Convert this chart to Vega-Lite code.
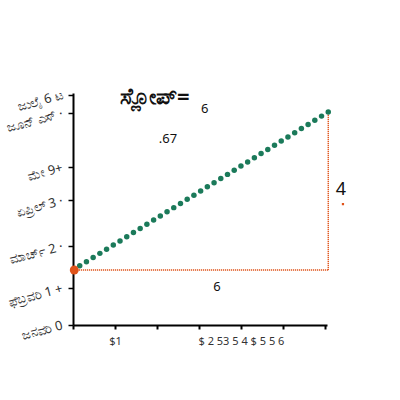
{
  "$schema": "https://vega.github.io/schema/vega-lite/v6.json",
  "autosize": "none",
  "width": 254,
  "height": 232,
  "padding": {"left": 73, "top": 93, "right": 73, "bottom": 75},
  "background": "white",
  "config": {
    "view": {"stroke": null},
    "font": "Noto Sans",
    "axis": {"labelOverlap": false}
  },
  "datasets": {
    "dots": [
      {"x": 0.16, "y": 1.107}, {"x": 0.32, "y": 1.213}, {"x": 0.48, "y": 1.32},
      {"x": 0.64, "y": 1.427}, {"x": 0.8, "y": 1.533}, {"x": 0.96, "y": 1.64},
      {"x": 1.12, "y": 1.747}, {"x": 1.28, "y": 1.853}, {"x": 1.44, "y": 1.96},
      {"x": 1.6, "y": 2.067}, {"x": 1.76, "y": 2.173}, {"x": 1.92, "y": 2.28},
      {"x": 2.08, "y": 2.387}, {"x": 2.24, "y": 2.493}, {"x": 2.4, "y": 2.6},
      {"x": 2.56, "y": 2.707}, {"x": 2.72, "y": 2.813}, {"x": 2.88, "y": 2.92},
      {"x": 3.04, "y": 3.027}, {"x": 3.2, "y": 3.133}, {"x": 3.36, "y": 3.24},
      {"x": 3.52, "y": 3.347}, {"x": 3.68, "y": 3.453}, {"x": 3.84, "y": 3.56},
      {"x": 4.0, "y": 3.667}, {"x": 4.16, "y": 3.773}, {"x": 4.32, "y": 3.88},
      {"x": 4.48, "y": 3.987}, {"x": 4.64, "y": 4.093}, {"x": 4.8, "y": 4.2},
      {"x": 4.96, "y": 4.307}, {"x": 5.12, "y": 4.413}, {"x": 5.28, "y": 4.52},
      {"x": 5.44, "y": 4.627}, {"x": 5.6, "y": 4.733}, {"x": 5.76, "y": 4.84},
      {"x": 5.92, "y": 4.947}, {"x": 6.08, "y": 5.053}
    ],
    "legs": [
      {"leg": "run", "x": 0, "y": 1, "x2": 6.08, "y2": 1},
      {"leg": "rise", "x": 6.08, "y": 1, "x2": 6.08, "y2": 5.053}
    ],
    "start": [{"x": 0.03, "y": 1}],
    "tick4": [{"x": 6.43, "y": 2.69}],
    "notes": [
      {"text": "ಸ್ಲೋಪ್=", "x": 1.95, "y": 5.44, "kind": "title"},
      {"text": "6", "x": 3.14, "y": 5.12, "kind": "num"},
      {"text": ".67", "x": 2.26, "y": 4.36, "kind": "num"},
      {"text": "6", "x": 3.43, "y": 0.56, "kind": "num"},
      {"text": "4", "x": 6.38, "y": 3.05, "kind": "big"}
    ]
  },
  "encoding": {
    "x": {
      "field": "x", "type": "quantitative",
      "scale": {"domain": [0, 6.05], "nice": false, "zero": false},
      "axis": {
        "title": null,
        "values": [0, 1, 2, 3, 4, 5, 6],
        "grid": false,
        "domainColor": "black",
        "domainWidth": 2,
        "tickColor": "black",
        "tickSize": 4,
        "tickWidth": 2,
        "labelFontSize": 11,
        "labelColor": "#333",
        "labelPadding": 6,
        "labelOverlap": false,
        "labelExpr": "datum.value == 1 ? '$1' : datum.value == 4 ? '$ 2 53 5 4 $ 5 5 6' : ''"
      }
    },
    "y": {
      "field": "y", "type": "quantitative",
      "scale": {"domain": [-0.41, 5.54], "nice": false, "zero": false},
      "axis": {
        "title": null,
        "values": [-0.4, 0.54, 1.62, 2.79, 3.64, 5.03, 5.5],
        "grid": false,
        "domainColor": "black",
        "domainWidth": 2,
        "tickColor": "black",
        "tickSize": 5,
        "tickWidth": 1.5,
        "labelAngle": -15,
        "labelAlign": "right",
        "labelBaseline": "middle",
        "labelFontSize": 13,
        "labelColor": "#333",
        "labelPadding": 6,
        "labelOverlap": false,
        "labelBound": false,
        "labelExpr": "datum.value < 0 ? 'ಜನವರಿ 0' : datum.value < 1 ? 'ಫೆಬ್ರವರಿ 1 +' : datum.value < 2 ? 'ಮಾರ್ಚ್ 2 ·' : datum.value < 3 ? 'ಏಪ್ರಿಲ್ 3 ·' : datum.value < 4 ? 'ಮೇ 9+' : datum.value < 5.2 ? 'ಜೂನ್ ಎಸ್ ·' : 'ಜುಲೈ 6 ಟ'"
      }
    }
  },
  "layer": [
    {
      "data": {"name": "legs"},
      "mark": {"type": "rule", "stroke": "#e0531a", "strokeWidth": 1.4, "strokeDash": [1.2, 0.8]},
      "encoding": {
        "x2": {"field": "x2"},
        "y2": {"field": "y2"}
      }
    },
    {
      "data": {"name": "dots"},
      "mark": {"type": "circle", "color": "#1b7a5a", "size": 30, "opacity": 1, "clip": false}
    },
    {
      "data": {"name": "start"},
      "mark": {"type": "circle", "color": "#e0531a", "size": 80, "opacity": 1, "clip": false}
    },
    {
      "data": {"name": "tick4"},
      "mark": {"type": "square", "color": "#e0531a", "size": 5, "opacity": 1, "clip": false}
    },
    {
      "data": {"name": "notes"},
      "transform": [{"filter": "datum.kind == 'title'"}],
      "mark": {"type": "text", "color": "#111", "fontSize": 22, "fontWeight": "bold", "clip": false},
      "encoding": {"text": {"field": "text"}}
    },
    {
      "data": {"name": "notes"},
      "transform": [{"filter": "datum.kind == 'num'"}],
      "mark": {"type": "text", "color": "#111", "fontSize": 13, "clip": false},
      "encoding": {"text": {"field": "text"}}
    },
    {
      "data": {"name": "notes"},
      "transform": [{"filter": "datum.kind == 'big'"}],
      "mark": {"type": "text", "color": "#111", "fontSize": 18, "clip": false},
      "encoding": {"text": {"field": "text"}}
    }
  ]
}
